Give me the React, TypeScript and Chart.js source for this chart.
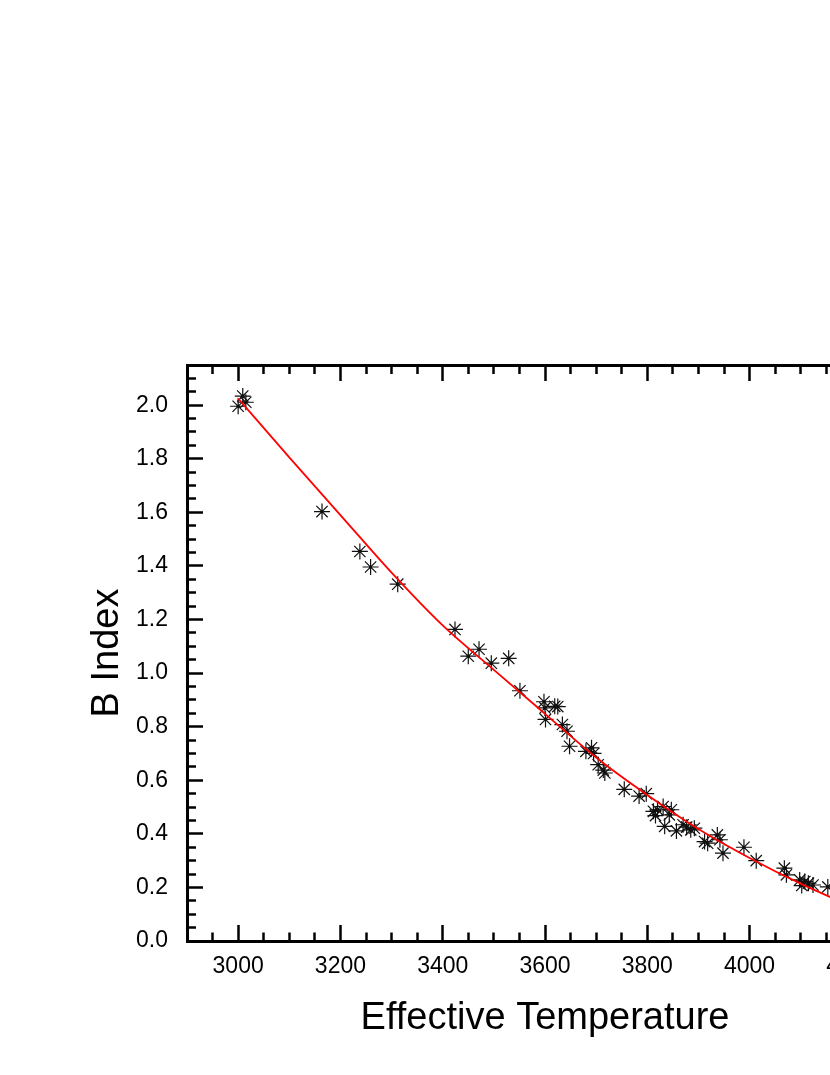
import React, { useEffect, useRef } from 'react';
import { Chart, registerables } from 'chart.js';

Chart.register(...registerables);

// Observed stars: effective temperature (K) and B index
const tempVals = [
  3000, 3009, 3015, 3164, 3238, 3259, 3312, 3424, 3450, 3471, 3495, 3529, 3551,
  3598, 3600, 3601, 3619, 3625, 3634, 3643, 3648, 3680, 3691, 3695, 3704, 3714,
  3717, 3755, 3784, 3798, 3812, 3816, 3820, 3831, 3834, 3843, 3847, 3857, 3870,
  3877, 3885, 3892, 3912, 3918, 3937, 3942, 3948, 3989, 4013, 4068, 4072, 4098,
  4102, 4108, 4115, 4124, 4153,
];
const bIndexVals = [
  1.996, 2.034, 2.011, 1.603, 1.454, 1.396, 1.332, 1.163, 1.063, 1.089, 1.037, 1.055, 0.934,
  0.893, 0.870, 0.827, 0.876, 0.875, 0.808, 0.783, 0.727, 0.708, 0.721, 0.700, 0.658, 0.638,
  0.627, 0.566, 0.541, 0.550, 0.484, 0.468, 0.490, 0.502, 0.428, 0.471, 0.490, 0.411, 0.434,
  0.425, 0.415, 0.421, 0.371, 0.365, 0.396, 0.378, 0.328, 0.350, 0.300, 0.272, 0.247, 0.228,
  0.207, 0.222, 0.216, 0.209, 0.202,
];

// Fitted curve (red)
const fitTemps = [3000, 3100, 3200, 3300, 3400, 3500, 3600, 3700, 3800, 3900, 4000, 4100, 4200, 4300];
const fitVals = [2.025, 1.805, 1.59, 1.375, 1.178, 1.012, 0.848, 0.685, 0.545, 0.418, 0.31, 0.214, 0.13, 0.06];

// Axis settings
const xMin = 2900;
const xMax = 4300;
const xStep = 50;
const xTickLabels = [3000, 3200, 3400, 3600, 3800, 4000, 4200];
const yMin = 0;
const yMax = 2.15;
const yStep = 0.05;
const yTickLabels = [0, 0.2, 0.4, 0.6, 0.8, 1.0, 1.2, 1.4, 1.6, 1.8, 2.0];

const xTitle = 'Effective Temperature';
const yTitle = 'B Index';

const FONT = "'Liberation Sans', Arial, Helvetica, sans-serif";

const isIn = (list: number[], v: number) => list.some((t) => Math.abs(t - v) < 1e-6);

const TICK_LEN = -16;
const MINOR_DASH = 10.5;
const FULL_LEN = 17.5;

function makeGrid(labels: number[], innerStart: boolean) {
  return {
    display: true,
    drawOnChartArea: false,
    drawTicks: true,
    tickLength: TICK_LEN,
    tickWidth: 2.5,
    tickColor: '#000',
    tickBorderDash: (ctx: any) => (isIn(labels, ctx.tick ? ctx.tick.value : NaN) ? [] : [MINOR_DASH, 200]),
    tickBorderDashOffset: (ctx: any) =>
      isIn(labels, ctx.tick ? ctx.tick.value : NaN) ? 0 : innerStart ? -(FULL_LEN - MINOR_DASH) : 0,
  };
}

const border = { display: true, width: 3, color: '#000' };

export default function App() {
  const ref = useRef<HTMLCanvasElement | null>(null);

  useEffect(() => {
    const canvas = ref.current;
    if (!canvas) return;
    Chart.defaults.font.family = FONT;
    const points = tempVals.map((t, i) => ({ x: t, y: bIndexVals[i] }));
    const fit = fitTemps.map((t, i) => ({ x: t, y: fitVals[i] }));

    const chart = new Chart(canvas, {
      type: 'scatter',
      data: {
        datasets: [
          {
            label: 'fit',
            data: fit,
            showLine: true,
            borderColor: '#ff0000',
            borderWidth: 1.8,
            pointRadius: 0,
            cubicInterpolationMode: 'monotone',
            fill: false,
          } as any,
          {
            label: 'stars',
            data: points,
            pointStyle: 'star',
            pointRadius: 8,
            borderColor: '#111',
            backgroundColor: '#111',
            pointBorderWidth: 1.2,
            showLine: false,
          } as any,
          {
            label: 'centres',
            data: points,
            pointStyle: 'circle',
            pointRadius: 1.6,
            borderWidth: 0,
            backgroundColor: '#000',
            showLine: false,
          } as any,
        ],
      },
      options: {
        responsive: false,
        devicePixelRatio: 1,
        animation: false,
        layout: { padding: 0 },
        plugins: { legend: { display: false }, tooltip: { enabled: false } },
        scales: {
          x: {
            type: 'linear',
            position: 'bottom',
            min: xMin,
            max: xMax,
            afterFit: (s: any) => {
              s.height = 126;
            },
            ticks: {
              stepSize: xStep,
              autoSkip: false,
              maxRotation: 0,
              minRotation: 0,
              padding: 28,
              color: '#000',
              font: { family: FONT, size: 23 },
              callback: (v: any) => (isIn(xTickLabels, Number(v)) ? String(Math.round(Number(v))) : ''),
            },
            grid: makeGrid(xTickLabels, false),
            border,
            title: {
              display: true,
              text: xTitle,
              color: '#000',
              font: { family: FONT, size: 38 },
              padding: { top: 0, bottom: 26 },
            },
          },
          x2: {
            type: 'linear',
            position: 'top',
            min: xMin,
            max: xMax,
            afterFit: (s: any) => {
              s.height = 357;
            },
            ticks: { display: false, stepSize: xStep, autoSkip: false },
            grid: makeGrid(xTickLabels, true),
            border,
          },
          y: {
            type: 'linear',
            position: 'left',
            min: yMin,
            max: yMax,
            afterFit: (s: any) => {
              s.width = 179;
            },
            ticks: {
              stepSize: yStep,
              autoSkip: false,
              padding: 35,
              color: '#000',
              font: { family: FONT, size: 23 },
              callback: (v: any) => (isIn(yTickLabels, Number(v)) ? Number(v).toFixed(1) : ''),
            },
            grid: makeGrid(yTickLabels, true),
            border,
            title: {
              display: true,
              text: yTitle,
              color: '#000',
              font: { family: FONT, size: 38 },
              padding: { top: 77, bottom: 0 },
            },
          },
          y2: {
            type: 'linear',
            position: 'right',
            min: yMin,
            max: yMax,
            afterFit: (s: any) => {
              s.width = 105;
            },
            ticks: { display: false, stepSize: yStep, autoSkip: false },
            grid: makeGrid(yTickLabels, false),
            border,
          },
        },
      } as any,
    });
    return () => chart.destroy();
  }, []);

  return (
    <div
      style={{
        position: 'fixed',
        left: 8,
        top: 8,
        width: 822,
        height: 1059,
        overflow: 'hidden',
      }}
    >
      <canvas ref={ref} width={1000} height={1059} style={{ display: 'block', width: 1000, height: 1059 }} />
    </div>
  );
}
